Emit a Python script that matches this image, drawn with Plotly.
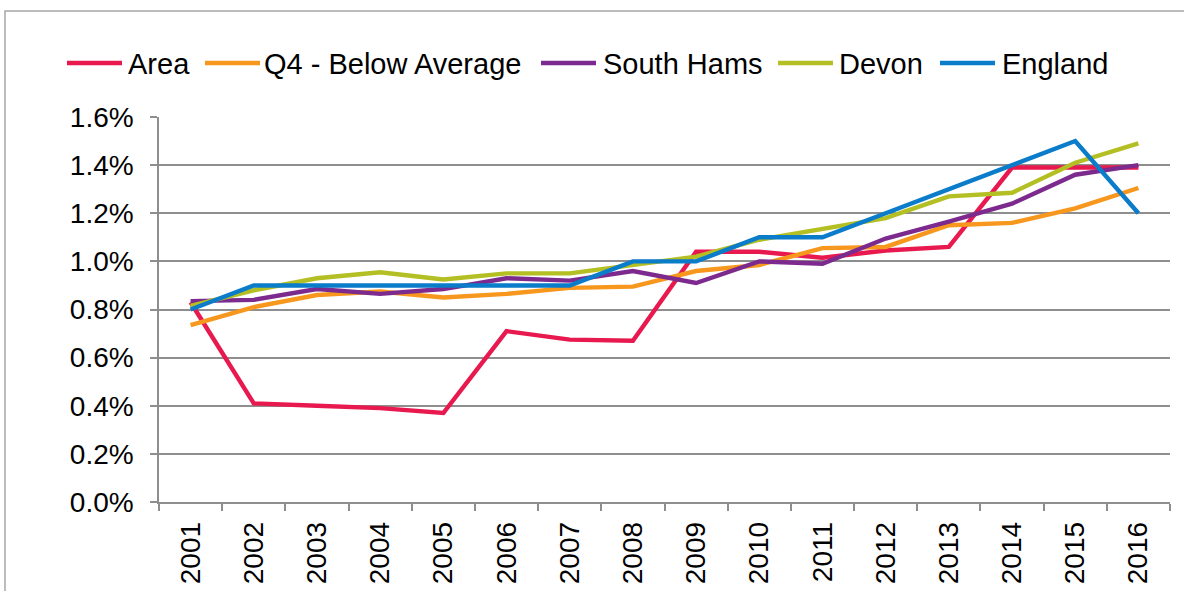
import plotly.graph_objects as go

# Annual rate by year (percent)
years = [str(y) for y in range(2001, 2017)]
series_names = ["Area", "Q4 - Below Average", "South Hams", "Devon", "England"]
area = [0.83, 0.41, 0.40, 0.39, 0.37, 0.71, 0.675, 0.67, 1.04, 1.04, 1.015, 1.045, 1.06, 1.39, 1.39, 1.39]
q4_below_avg = [0.735, 0.81, 0.86, 0.875, 0.85, 0.865, 0.89, 0.895, 0.96, 0.985, 1.055, 1.06, 1.15, 1.16, 1.22, 1.305]
south_hams = [0.835, 0.84, 0.885, 0.865, 0.885, 0.93, 0.92, 0.96, 0.91, 1.0, 0.99, 1.095, 1.165, 1.24, 1.36, 1.40]
devon = [0.815, 0.88, 0.93, 0.955, 0.925, 0.95, 0.95, 0.985, 1.02, 1.09, 1.135, 1.18, 1.27, 1.285, 1.41, 1.49]
england = [0.80, 0.90, 0.90, 0.90, 0.90, 0.90, 0.90, 1.00, 1.00, 1.10, 1.10, 1.20, 1.30, 1.40, 1.50, 1.20]
y_ticks = [0.0, 0.2, 0.4, 0.6, 0.8, 1.0, 1.2, 1.4, 1.6]

colors = ["#E8194F", "#F7971E", "#7D2A8E", "#B4BF24", "#0A7CC9"]
all_series = [area, q4_below_avg, south_hams, devon, england]

W, H = 1184, 591
L, R, T, B = 159, 14, 117, 89
PW = W - L - R
PH = H - T - B
FONT = "Liberation Sans, Arial, sans-serif"
GRID = "#8E8E8E"

fig = go.Figure()
for name, vals, col in zip(series_names, all_series, colors):
    fig.add_trace(go.Scatter(
        x=years, y=vals, name=name, mode="lines",
        line=dict(color=col, width=4.4),
        showlegend=False,
    ))


def px_x(px):
    return (px - L) / PW


def px_y(py):
    return (H - B - py) / PH


# Legend drawn as line swatches with labels across the top
legend_line_x = [67, 205, 541, 778, 940]
legend_text_x = [126, 262, 601, 837, 1000]
legend_y = 63
shapes = []
annotations = []
for name, col, lx, tx in zip(series_names, colors, legend_line_x, legend_text_x):
    shapes.append(dict(type="line", xref="paper", yref="paper",
                       x0=px_x(lx), x1=px_x(lx + 55), y0=px_y(legend_y), y1=px_y(legend_y),
                       line=dict(color=col, width=4.6), layer="above"))
    annotations.append(dict(xref="paper", yref="paper", x=px_x(tx), y=px_y(legend_y + 1),
                            xanchor="left", yanchor="middle", showarrow=False, text=name,
                            font=dict(family=FONT, size=29, color="#000000")))

# Outer chart frame
shapes.append(dict(type="rect", xref="paper", yref="paper",
                   x0=px_x(5), x1=px_x(1200), y0=px_y(620), y1=px_y(11),
                   line=dict(color="#A6A6A6", width=1.5), fillcolor="rgba(0,0,0,0)", layer="below"))

fig.update_layout(
    width=W, height=H,
    margin=dict(l=L, r=R, t=T, b=B),
    paper_bgcolor="white", plot_bgcolor="white",
    font=dict(family=FONT, size=28, color="#000000"),
    shapes=shapes, annotations=annotations,
    showlegend=False,
)
fig.update_xaxes(
    type="category", range=[-0.5, len(years) - 0.5], automargin=False,
    tickangle=-90, tickson="boundaries", ticks="outside", ticklen=7,
    tickcolor=GRID, tickwidth=1.5,
    showline=True, linecolor=GRID, linewidth=1.5,
    showgrid=False, tickfont=dict(size=28), ticklabelstandoff=7,
)
fig.update_yaxes(
    range=[0, 1.6], tickvals=y_ticks, ticktext=[f"{v:.1f}%" for v in y_ticks],
    automargin=False,
    ticks="outside", ticklen=7, tickcolor=GRID, tickwidth=1.5,
    showline=True, linecolor=GRID, linewidth=1.5,
    showgrid=True, gridcolor=GRID, gridwidth=1.5,
    zeroline=False, tickfont=dict(size=28), ticklabelstandoff=11,
)

fig.write_html("out.html")
